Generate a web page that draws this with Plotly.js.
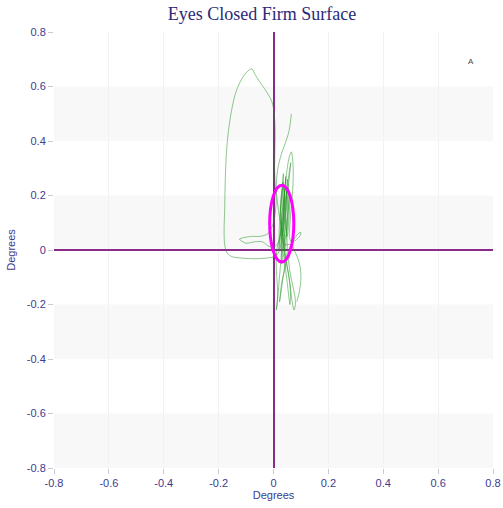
<!DOCTYPE html>
<html><head><meta charset="utf-8">
<script src="https://cdn.plot.ly/plotly-3.0.1.min.js"></script>
<style>html,body{margin:0;padding:0;background:#fff}#chart{width:503px;height:508px}</style>
</head><body><div id="chart"></div>
<script>
// Sway path (degrees)
const swayX = [0.065,0.062,0.055,0.042,0.028,0.018,0.012,0.010,0.015,0.022,0.030,0.035,0.040,0.042,0.038,0.030,0.025,0.022,
 0.028,0.035,0.045,0.050,0.048,0.045,0.050,0.055,0.060,0.063,0.058,0.050,0.040,0.035,0.030,0.025,
 0.015,0.000,-0.030,-0.070,-0.110,-0.150,-0.170,-0.178,-0.180,-0.178,-0.176,-0.172,-0.165,-0.155,-0.140,-0.120,-0.100,-0.080,-0.065,-0.045,-0.025,-0.008,0.000,0.005,
 0.006,0.005,0.004,0.006,0.010,
 0.000,-0.020,-0.050,-0.080,-0.110,-0.124,-0.100,-0.070,-0.040,-0.020,0.000,
 0.020,0.030,0.035,0.040,0.045,0.050,0.055,0.060,0.065,0.070,0.072,0.070,0.065,0.060,0.058,0.065,0.080,0.095,0.100,0.090,0.075,0.060,0.055,0.060,0.070,0.078,0.080,0.075,0.068,0.062,0.055,0.045,0.035,0.030,0.025,0.028,0.035,0.040,0.038,0.030,0.020,0.012,0.010,0.012,0.015,0.013,0.010,
 0.015,0.020,0.025,0.030,0.035,0.040,0.045,0.048,0.045,0.042,0.040,0.042,0.050,0.058,0.062,0.060,
 0.050,0.040,0.030,0.035,0.040,0.045,0.040,0.035,0.040,0.050,0.055,0.050,0.045,0.030,0.025,0.030,0.035,0.040,0.050,0.055,0.060,0.050,0.038,0.030,0.028,0.032,0.036,0.030,0.022,0.020,0.026,0.034,0.044,0.052,0.046,0.040,
 0.065,0.075,0.080,0.095,0.100,0.095,0.085];
const swayY = [0.500,0.470,0.430,0.390,0.350,0.310,0.270,0.220,0.170,0.120,0.080,0.040,0.000,-0.040,-0.080,-0.120,-0.160,-0.190,
 -0.150,-0.100,-0.050,0.000,0.060,0.120,0.180,0.240,0.290,0.320,0.290,0.230,0.160,0.100,0.050,0.010,
 -0.015,-0.025,-0.030,-0.032,-0.030,-0.025,-0.010,0.020,0.070,0.150,0.250,0.350,0.430,0.500,0.570,0.620,0.650,0.665,0.640,0.610,0.580,0.550,0.520,0.470,
 0.420,0.360,0.300,0.240,0.180,
 0.100,0.060,0.050,0.050,0.045,0.040,0.025,0.030,0.030,0.015,0.010,
 0.030,0.090,0.150,0.210,0.260,0.300,0.330,0.350,0.360,0.330,0.280,0.220,0.160,0.100,0.050,0.030,0.035,0.050,0.065,0.060,0.040,0.010,-0.030,-0.080,-0.130,-0.170,-0.200,-0.220,-0.190,-0.140,-0.090,-0.040,0.020,0.080,0.140,0.200,0.240,0.200,0.140,0.080,0.040,0.000,-0.050,-0.100,-0.150,-0.200,-0.220,
 -0.180,-0.120,-0.060,0.000,0.060,0.120,0.180,0.220,0.170,0.110,0.050,-0.010,-0.060,-0.110,-0.160,-0.200,
 -0.120,-0.040,0.020,0.100,0.200,0.270,0.200,0.100,0.000,0.080,0.200,0.260,0.150,0.050,0.120,0.200,0.250,0.150,0.050,0.100,0.200,0.120,0.040,-0.050,0.060,0.180,0.280,0.200,0.100,0.000,0.080,0.160,0.230,0.140,0.060,0.020,
 0.020,0.000,-0.010,-0.050,-0.100,-0.150,-0.190];
// 95% ellipse: centre and semi-axes (degrees)
const ellipseCenter = [0.030, 0.097];
const ellipseRadii = [0.044, 0.141];
const tickVals = [-0.8,-0.6,-0.4,-0.2,0,0.2,0.4,0.6,0.8];
const tickText = ['-0.8','-0.6','-0.4','-0.2','0','0.2','0.4','0.6','0.8'];
const bandStarts = [0.4, 0.0, -0.4, -0.8];

const fc = '#3b3b8f';
const shapes = bandStarts.map(b => ({type:'rect', xref:'paper', yref:'y', x0:0, x1:1, y0:b, y1:b+0.2,
  fillcolor:'#f8f8f8', line:{width:0}, layer:'below'}));
shapes.push({type:'circle', xref:'x', yref:'y',
  x0:ellipseCenter[0]-ellipseRadii[0], x1:ellipseCenter[0]+ellipseRadii[0],
  y0:ellipseCenter[1]-ellipseRadii[1], y1:ellipseCenter[1]+ellipseRadii[1],
  line:{color:'#ff00ff', width:3}, layer:'above'});

const axisCommon = {range:[-0.8,0.8], tickvals:tickVals, ticktext:tickText, ticks:'outside', ticklen:5,
  tickcolor:'#c8c8d8', showgrid:true, zeroline:true, zerolinecolor:'#8a2a8a', zerolinewidth:2,
  showline:false, tickfont:{family:'Liberation Sans, Arial', size:11, color:fc}, fixedrange:true};

Plotly.newPlot('chart', [{
  x: swayX, y: swayY, type:'scatter', mode:'lines',
  line:{color:'rgba(30,145,30,0.5)', width:1, shape:'spline', smoothing:0.8}, hoverinfo:'skip'
}], {
  width:503, height:508, margin:{l:54, r:10, t:32, b:40},
  paper_bgcolor:'#ffffff', plot_bgcolor:'#ffffff', showlegend:false,
  title:{text:'Eyes Closed Firm Surface', font:{family:'Liberation Serif, Times New Roman', size:18, color:'#2a2a78'},
    x:0.474, xref:'paper', xanchor:'center', y:0.985, yanchor:'top'},
  xaxis: Object.assign({}, axisCommon, {gridcolor:'#f2f2f2',
    title:{text:'Degrees', font:{family:'Liberation Sans, Arial', size:11, color:fc}, standoff:2}}),
  yaxis: Object.assign({}, axisCommon, {showgrid:false,
    title:{text:'Degrees', font:{family:'Liberation Sans, Arial', size:11, color:fc}, standoff:8}}),
  shapes: shapes,
  annotations:[{text:'A', x:0.72, y:0.69, xref:'x', yref:'y', showarrow:false,
    font:{family:'Liberation Sans, Arial', size:8, color:'#444'}}]
}, {staticPlot:true});
</script></body></html>
